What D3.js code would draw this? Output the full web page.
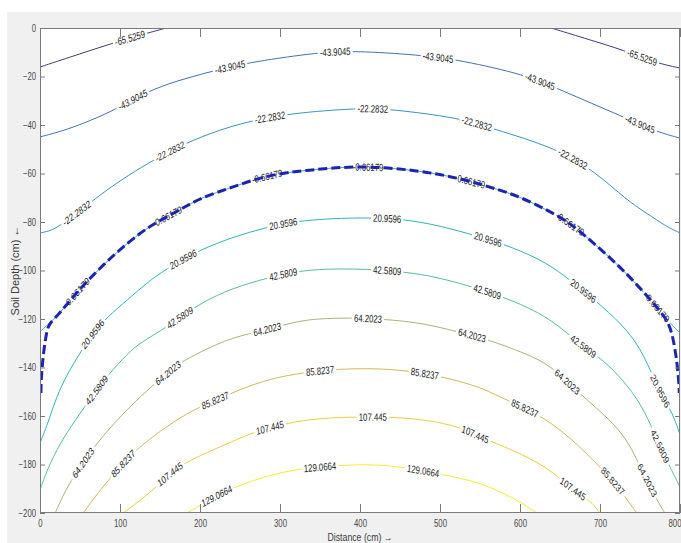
<!DOCTYPE html>
<html>
<head>
<meta charset="utf-8">
<script src="https://cdn.jsdelivr.net/npm/d3@7"></script>
<style>
  body { margin: 0; background: #fff; }
  svg { display: block; }
  text { font-family: "Liberation Sans", Arial, Helvetica, sans-serif; }
</style>
</head>
<body>
<svg id="chart" width="681" height="543"></svg>
<script>
// ---- axis ticks ----
const xTicks = [0, 100, 200, 300, 400, 500, 600, 700, 800];
const yTicks = [0, -20, -40, -60, -80, -100, -120, -140, -160, -180, -200];

// ---- contour levels (potential) ----
const levels = [-65.5259, -43.9045, -22.2832, -0.66179, 20.9596, 42.5809, 64.2023, 85.8237, 107.445, 129.0664];

// ---- contour lines: [distance (cm), depth (cm)] ----
const contourM65Left  = [[0, -16.1], [33, -12.5], [92, -6.1], [133, -2.2], [158, 0]];
const contourM65Right = [[639, 0], [687.5, -4.9], [729, -9.1], [771, -14.5], [800, -16.5]];
const contourM44 = [[0, -44.9], [33, -42.1], [75, -36.6], [100, -32.5], [142, -24.9], [183, -20.7], [221, -17.3],
  [266, -13.9], [350, -10.0], [392, -9.4], [475, -11.1], [525, -13.2], [608, -19.4], [646, -24.9], [733, -37.2],
  [771, -42.8], [800, -45.4]];
const contourM22 = [[0, -84.5], [12.5, -83.7], [25, -81.6], [46, -76.3], [62.5, -72.2], [75, -68.9], [96, -63.9],
  [125, -57.7], [162.5, -50.7], [200, -44.9], [250, -39.2], [312.5, -35.1], [400, -33.0], [437.5, -33.4],
  [525, -37.1], [562.5, -41.2], [646, -49.5], [696, -59.8], [733, -70.9], [758, -76.3], [783, -81.9], [800, -84.5]];
const contourM01 = [[0, -125.2], [12.5, -121.6], [25, -117.5], [41, -110.9], [66, -101.9], [96, -92.4], [125, -84.5],
  [146, -80], [175, -75], [200, -70.1], [241, -65.6], [284, -60.6], [334, -58.6], [400, -56.7], [471, -58.6],
  [525, -61.9], [575, -66.8], [600, -69.7], [634, -75], [662.5, -80.4], [687.5, -87.4], [716, -95.7],
  [741, -103.9], [771, -115], [784, -120.4], [800, -125.8]];
const contour21 = [[0, -171.1], [8.75, -164.1], [25, -147.6], [50, -134], [66, -125.8], [84, -119.2], [109, -112.2],
  [137.5, -103.9], [166, -97.7], [200, -91.5], [241, -86.2], [284, -82.1], [325, -79.2], [409, -77.9], [471, -79.2],
  [534, -84.5], [591, -90.3], [634, -96.9], [662.5, -103.9], [704, -115], [734, -124.5], [754, -134], [775, -150.5],
  [791, -158.8], [800, -167.8]];
const contour43 = [[0, -190.5], [8.75, -182.3], [25, -171.1], [50, -158.8], [71, -149.3], [84, -143.5], [110, -134],
  [125, -129.9], [159, -123.3], [200, -113.4], [241, -107.2], [284, -103.1], [325, -99.8], [387.5, -99], [471, -100.6],
  [534, -106], [591, -112.2], [634, -119.2], [659, -125.8], [679, -131.5], [704, -136.9], [729, -145.2], [750, -154.6],
  [762.5, -162.9], [775, -172.8], [787.5, -181], [800, -189.3]];
const contour64 = [[19, -200], [34, -188.9], [54, -179.4], [71, -171.1], [104, -158.8], [134, -149.3], [160, -142.3],
  [175, -138.1], [200, -133.6], [241, -127.4], [284, -124.5], [325, -120.4], [366, -119.6], [410, -119.6],
  [471, -121.2], [512.5, -124.5], [550, -127.4], [596, -132.8], [634, -138.1], [659, -146], [684, -153.4],
  [712.5, -161.6], [734, -169.9], [746, -178.1], [759, -186.4], [771, -194.6], [781, -200]];
const contour86 = [[54, -200], [75, -190.5], [104, -179.4], [125, -172.5], [159, -164.1], [191, -157.5], [221, -153.4],
  [250, -149.0], [280, -145.5], [309, -143.2], [350, -141.2], [400, -140.2], [459, -141], [509, -144.3], [550, -148],
  [575, -152.2], [606, -156.7], [634, -161.6], [666, -169.9], [691, -178.1], [716, -186.4], [734, -194.6], [746, -200]];
const contour107 = [[104, -200], [137.5, -191.8], [162.5, -183.5], [187.5, -178.1], [225, -172.8], [266, -166.6],
  [309, -162.9], [350, -160.8], [400, -160.4], [441, -160.4], [484, -161.6], [525, -164.5], [550, -168.7],
  [591, -174], [634, -181], [666, -190.5], [687.5, -194.6], [700, -200]];
const contour129 = [[184, -200], [225, -191.8], [266, -186.4], [312.5, -182.3], [350, -181], [400, -179.8],
  [450, -180.6], [525, -185.6], [550, -187.6], [591, -193.4], [621, -200]];

// dashed front following the -0.66179 contour down the side walls
const wettingFront = [[1.25, -150.5], [1.25, -146], [3.75, -135], [8.75, -124], [12.5, -121.6], [25, -117.5],
  [41, -110.9], [66, -101.9], [96, -92.4], [125, -84.5], [146, -80], [175, -75], [200, -70.1], [241, -65.6],
  [284, -60.6], [334, -58.6], [400, -56.7], [471, -58.6], [525, -61.9], [575, -66.8], [600, -69.7], [634, -75],
  [662.5, -80.4], [687.5, -87.4], [716, -95.7], [741, -103.9], [771, -115], [784, -120.4], [790, -125.8],
  [794, -132.8], [797, -140], [799, -148], [799, -150.5]];

// ---- label anchor distances (cm) along each contour ----
const labelsM65Left  = [112.5];
const labelsM65Right = [752.5];
const labelsM44 = [116, 237.5, 369, 497.5, 625, 750];
const labelsM22 = [46, 162.5, 287.5, 416, 546, 666];
const labelsM01 = [46, 159, 284, 410, 537.5, 662.5, 771];
const labels21  = [66, 179, 304, 434, 560, 679, 775];
const labels43  = [71, 175, 304, 434, 559, 679, 775];
const labels64  = [54, 160, 284, 410, 540, 659, 759];
const labels86  = [104, 219, 350, 481, 606, 716];
const labels107 = [162.5, 287.5, 416, 544, 666];
const labels129 = [221, 350, 479];

// ---- styling ----
const levelColors = ["#3d3a7a", "#4470b4", "#3a90cc", "#3aa8d8", "#2fb4b8", "#55bd9c",
                     "#a2b877", "#d2b95a", "#eccf3c", "#f5ec2a"];
const squeeze = 0.74;

const W = 681, H = 543;
const plot = { left: 40, top: 28, right: 680, bottom: 513 };

const svg = d3.select("#chart");
svg.append("rect").attr("width", W).attr("height", H).attr("fill", "#fff");
svg.append("rect").attr("x", 7).attr("y", 12).attr("width", W - 7).attr("height", H - 12).attr("fill", "#f0f0f0");
svg.append("rect").attr("x", plot.left).attr("y", plot.top)
  .attr("width", plot.right - plot.left).attr("height", plot.bottom - plot.top).attr("fill", "#fff");

const x = d3.scaleLinear().domain([0, 800]).range([plot.left, plot.right]);
const y = d3.scaleLinear().domain([0, -200]).range([plot.top, plot.bottom]);

svg.append("clipPath").attr("id", "plotClip").append("rect")
  .attr("x", plot.left).attr("y", plot.top)
  .attr("width", plot.right - plot.left).attr("height", plot.bottom - plot.top);

const contourSpecs = [
  { k: 0, pts: contourM65Left, lab: labelsM65Left },
  { k: 0, pts: contourM65Right, lab: labelsM65Right },
  { k: 1, pts: contourM44, lab: labelsM44 },
  { k: 2, pts: contourM22, lab: labelsM22 },
  { k: 3, pts: contourM01, lab: labelsM01 },
  { k: 4, pts: contour21, lab: labels21 },
  { k: 5, pts: contour43, lab: labels43 },
  { k: 6, pts: contour64, lab: labels64 },
  { k: 7, pts: contour86, lab: labels86 },
  { k: 8, pts: contour107, lab: labels107 },
  { k: 9, pts: contour129, lab: labels129 }
];

const line = d3.line().x(d => x(d[0])).y(d => y(d[1])).curve(d3.curveBasis);

const lineLayer = svg.append("g").attr("clip-path", "url(#plotClip)");
const labelLayer = svg.append("g").attr("clip-path", "url(#plotClip)");
const frontLayer = svg.append("g").attr("clip-path", "url(#plotClip)");

function placeLabels(node, xs, txt) {
  const L = node.getTotalLength();
  const a = node.getPointAtLength(0), b = node.getPointAtLength(L);
  const rising = b.x > a.x;
  xs.forEach(xv => {
    const tx = x(xv);
    let lo = 0, hi = L;
    for (let i = 0; i < 32; i++) {
      const m = (lo + hi) / 2;
      const p = node.getPointAtLength(m);
      if ((p.x < tx) === rising) lo = m; else hi = m;
    }
    const len = (lo + hi) / 2;
    const p = node.getPointAtLength(len);
    const p1 = node.getPointAtLength(Math.max(0, len - 6));
    const p2 = node.getPointAtLength(Math.min(L, len + 6));
    let ang = Math.atan2(p2.y - p1.y, (p2.x - p1.x) / squeeze) * 180 / Math.PI;
    if (ang > 90) ang -= 180;
    if (ang < -90) ang += 180;
    const g = labelLayer.append("g")
      .attr("transform", `translate(${p.x},${p.y}) scale(${squeeze},1) rotate(${ang})`);
    const r = g.append("rect").attr("fill", "#fff");
    const t = g.append("text")
      .attr("text-anchor", "middle").attr("dy", "0.35em")
      .attr("font-size", 10.5).attr("fill", "#1a1a1a")
      .text(txt);
    const w = t.node().getComputedTextLength();
    r.attr("x", -w / 2 - 3).attr("y", -5.5).attr("width", w + 6).attr("height", 11);
  });
}

contourSpecs.forEach(s => {
  const path = lineLayer.append("path")
    .datum(s.pts)
    .attr("d", line)
    .attr("fill", "none")
    .attr("stroke", levelColors[s.k])
    .attr("stroke-width", 1);
  placeLabels(path.node(), s.lab, String(levels[s.k]));
});

frontLayer.append("path")
  .datum(wettingFront)
  .attr("d", line)
  .attr("fill", "none")
  .attr("stroke", "#1c24b0")
  .attr("stroke-width", 3)
  .attr("stroke-dasharray", "9,4");

// ---- axes (inward ticks on all four sides) ----
const axisColor = "#7a7a7a";
const tickTextColor = "#4a4a4a";

function styleAxis(g, withText) {
  g.select(".domain").remove();
  g.selectAll(".tick line").attr("stroke", axisColor);
  g.attr("font-family", null).attr("font-size", null);
  if (withText) {
    g.selectAll(".tick text")
      .attr("fill", tickTextColor)
      .attr("font-size", 10)
      .attr("transform", `scale(0.78,1)`);
  } else {
    g.selectAll(".tick text").remove();
  }
}

svg.append("g").attr("transform", `translate(0,${plot.bottom})`)
  .call(d3.axisBottom(x).tickValues(xTicks).tickSize(-9).tickPadding(6.5))
  .call(g => styleAxis(g, true))
  .call(g => g.selectAll(".tick text")
    .filter(d => d === xTicks[xTicks.length - 1])
    .attr("text-anchor", "end").attr("x", 1 / 0.78));
svg.append("g").attr("transform", `translate(0,${plot.top})`)
  .call(d3.axisTop(x).tickValues(xTicks).tickSize(-9))
  .call(g => styleAxis(g, false));
svg.append("g").attr("transform", `translate(${plot.left},0)`)
  .call(d3.axisLeft(y).tickValues(yTicks).tickSize(-5).tickPadding(5))
  .call(g => styleAxis(g, true));
svg.append("g").attr("transform", `translate(${plot.right},0)`)
  .call(d3.axisRight(y).tickValues(yTicks).tickSize(-5))
  .call(g => styleAxis(g, false));

svg.append("rect")
  .attr("x", plot.left + 0.5).attr("y", plot.top + 0.5)
  .attr("width", plot.right - plot.left - 1).attr("height", plot.bottom - plot.top - 1)
  .attr("fill", "none").attr("stroke", axisColor).attr("stroke-width", 1);

// ---- axis titles ----
svg.append("g").attr("transform", `translate(${x(400)},${plot.bottom + 28}) scale(0.76,1)`)
  .append("text")
  .attr("text-anchor", "middle")
  .attr("font-size", 11.5)
  .attr("fill", "#3c3c3c")
  .text("Distance (cm) \u2192");

svg.append("text")
  .attr("transform", `translate(19,${y(-100)}) rotate(-90)`)
  .attr("text-anchor", "middle")
  .attr("font-size", 11)
  .attr("fill", "#3c3c3c")
  .text("Soil Depth (cm) \u2190");
</script>
</body>
</html>
